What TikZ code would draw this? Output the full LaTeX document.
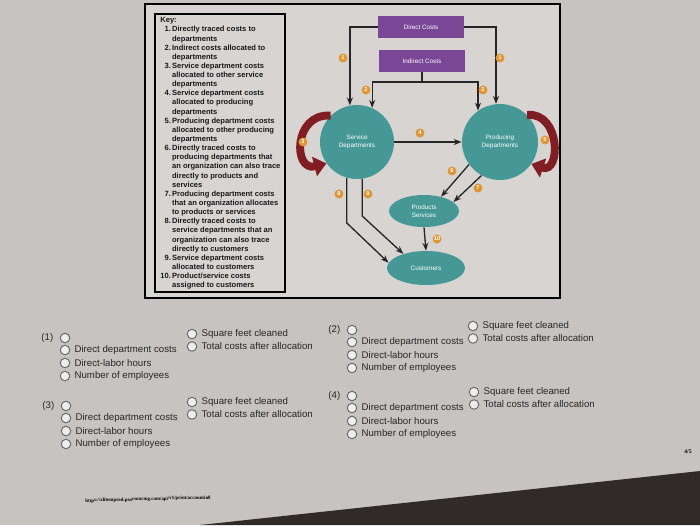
\documentclass[tikz,border=0pt]{standalone}
\usepackage{fontspec}
\setmainfont{Liberation Sans}
\newfontfamily\pagefont{Liberation Serif}
\usetikzlibrary{arrows.meta, positioning, calc, shapes.geometric}

\definecolor{pagegray}{RGB}{199,195,192}
\definecolor{boxgray}{RGB}{215,212,210}
\definecolor{deptteal}{RGB}{70,152,150}
\definecolor{costpurple}{RGB}{122,70,150}
\definecolor{badgeorange}{RGB}{222,150,55}
\definecolor{loopred}{RGB}{128,30,36}
\definecolor{radiogray}{RGB}{105,105,105}
\definecolor{tabledark}{RGB}{48,42,40}

\begin{document}
\begin{tikzpicture}[
		x=0.02cm, y=-0.02cm,
		costbox/.style={rectangle, fill=costpurple, minimum width=1.72cm, minimum height=0.43cm,
			inner sep=0pt, text=white, font=\fontsize{3.6}{4.2}\selectfont},
		dept/.style={circle, fill=deptteal, inner sep=0pt, align=center, text=white,
			font=\fontsize{3.6}{4.4}\selectfont},
		blob/.style={ellipse, fill=deptteal, inner sep=0pt, align=center, text=white,
			font=\fontsize{3.6}{4.4}\selectfont},
		arrow/.style={-{Stealth[length=4.5pt, width=3.4pt]}, line width=0.75pt, draw=black!85},
		looparrow/.style={-{Triangle[length=7pt, width=11pt]}, line width=4.5pt, draw=loopred},
		badge/.style={circle, fill=badgeorange, minimum size=0.18cm, inner sep=0pt, text=white,
			font=\fontsize{3.2}{3.2}\selectfont\bfseries},
		keytext/.style={anchor=north west, inner sep=0pt, text=black!90,
			font=\fontsize{4.3}{5.2}\selectfont\bfseries},
		radio/.style={circle, draw=radiogray, fill=white!70!pagegray, line width=0.55pt,
			minimum size=0.19cm, inner sep=0pt},
		opt/.style={inner sep=0pt, text=black!85, font=\fontsize{5.5}{6}\selectfont}
	]
	% --- page ---
	\useasboundingbox (0,0) rectangle (700,525);
	\fill[pagegray] (0,0) rectangle (700,525);
	\fill[tabledark] (200,525) -- (700,471) -- (700,525) -- cycle;
	\draw[line width=0.8pt, fill=boxgray] (145,4) rectangle (560,298);
	\draw[line width=0.6pt] (155,14) rectangle (285,292);
	
	% --- Key ---
	\node[keytext] (key) at (160,16) {%
		\begin{tabular}{@{}r@{\,}l@{}}
			\multicolumn{2}{@{}l}{Key:}\\
			1. & Directly traced costs to\\ & departments\\
			2. & Indirect costs allocated to\\ & departments\\
			3. & Service department costs\\ & allocated to other service\\ & departments\\
			4. & Service department costs\\ & allocated to producing\\ & departments\\
			5. & Producing department costs\\ & allocated to other producing\\ & departments\\
			6. & Directly traced costs to\\ & producing departments that\\ & an organization can also trace\\
			& directly to products and\\ & services\\
			7. & Producing department costs\\ & that an organization allocates\\ & to products or services\\
			8. & Directly traced costs to\\ & service departments that an\\ & organization can also trace\\
			& directly to customers\\
			9. & Service department costs\\ & allocated to customers\\
			10. & Product/service costs\\ & assigned to customers
		\end{tabular}};
	
	% --- Cost flow diagram ---
	\node[costbox] (direct) at (421,27) {Direct Costs};
	\node[costbox] (indirect) at (422,61) {Indirect Costs};
	\node[dept, minimum size=1.48cm] (service) at (357,142) {Service\\ Departments};
	\node[dept, minimum size=1.52cm] (produce) at (500,142) {Producing\\ Departments};
	\node[blob, minimum width=1.4cm, minimum height=0.64cm] (products) at (424,211) {Products\\ Services};
	\node[blob, minimum width=1.56cm, minimum height=0.68cm] (customers) at (426,268) {Customers};
	
	\draw[arrow] (direct.west) -| (service.101);
	\draw[arrow] (direct.east) -| (produce.96);
	\draw[line width=0.75pt, draw=black!85] (indirect.south) -- ++(0,10) coordinate (split);
	\draw[arrow] (split) -| (service.66);
	\draw[arrow] (split) -| (produce.125);
	\draw[arrow] (service.east) -- (produce.west);
	\draw[arrow] (produce.216) -- (products.40);
	\draw[arrow] (produce.241) -- (products.17);
	\draw[arrow] (service.254) -- ++(0,45) -- (customers.172);
	\draw[arrow] (service.278) -- ++(0,37) -- (customers.148);
	\draw[arrow] (products.south) -- (customers.north);
	\draw[looparrow] (service.135) .. controls (293,113) and (293,172) .. (service.215);
	\draw[looparrow] (produce.45) .. controls (561,112) and (561,174) .. (produce.-35);
	
	% --- badges ---
	\node[badge] (b1l) at (343,58) {1};
	\node[badge] (b1r) at (500,58) {1};
	\node[badge] (b2l) at (366,90) {2};
	\node[badge] (b2r) at (483,90) {2};
	\node[badge] (b3) at (303,142) {3};
	\node[badge] (b4) at (420,133) {4};
	\node[badge] (b5) at (545,140) {5};
	\node[badge] (b6) at (452,171) {6};
	\node[badge] (b7) at (478,188) {7};
	\node[badge] (b8) at (339,194) {8};
	\node[badge] (b9) at (368,194) {9};
	\node[badge] (b10) at (437,239) {10};
	
	% --- answer choices ---
	\foreach \n/\x/\y/\dx in {1/65/338/127, 2/352/330/121, 3/66/406/126, 4/352/396/122} {
		\node[radio] (r\n) at (\x,\y) {};
		\node[opt, left=3.5pt of r\n] (q\n) {(\n)};
		\node[radio] (r\n-a) at (\x,\y+12) {};
		\node[opt, right=2.3pt of r\n-a] {Direct department costs};
		\node[radio] (r\n-b) at (\x,\y+25) {};
		\node[opt, right=2.3pt of r\n-b] {Direct-labor hours};
		\node[radio] (r\n-c) at (\x,\y+38) {};
		\node[opt, right=2.3pt of r\n-c] {Number of employees};
		\node[radio] (r\n-d) at (\x+\dx,\y-4) {};
		\node[opt, right=2.3pt of r\n-d] {Square feet cleaned};
		\node[radio] (r\n-e) at (\x+\dx,\y+8.5) {};
		\node[opt, right=2.3pt of r\n-e] {Total costs after allocation};
	}
	
	% --- footer ---
	\node[anchor=west, rotate=1.5, inner sep=0pt, font=\pagefont\bfseries\fontsize{2.8}{3}\selectfont]
		(url) at (85,501) {https://xlitemprod.pearsoncmg.com/api/v1/print/accounting};
	\node[inner sep=0pt, font=\pagefont\bfseries\fontsize{3.2}{3.5}\selectfont] (pagenum) at (688,452) {4/5};
\end{tikzpicture}
\end{document}
